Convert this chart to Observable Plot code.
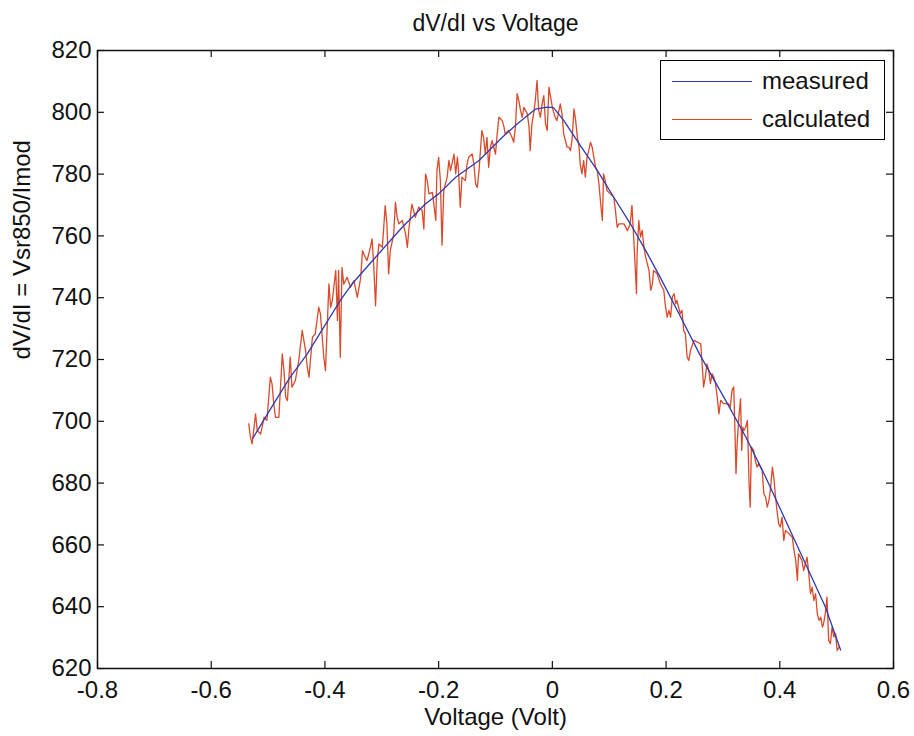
<!DOCTYPE html>
<html><head><meta charset="utf-8">
<script src="https://cdn.jsdelivr.net/npm/d3@7"></script>
<script src="https://cdn.jsdelivr.net/npm/@observablehq/plot@0.6"></script>
<style>
html,body{margin:0;padding:0;background:#fff;}
#wrap{position:relative;width:914px;height:736px;font-family:"Liberation Sans",Arial,sans-serif;}
#legend{position:absolute;left:660px;top:60px;width:225px;height:80px;border:1.5px solid #000;background:#fff;box-sizing:border-box;font-size:24px;color:#111;}
#legend .row{position:absolute;left:0;height:30px;display:flex;align-items:center;}
#legend .sw{width:80px;height:0;margin-left:11px;margin-right:10px;border-top:1.5px solid;}
</style></head><body><div id="wrap"></div>
<script>
const measuredV = [-0.527,-0.49,-0.461,-0.431,-0.402,-0.373,-0.352,-0.311,-0.264,-0.223,-0.2,-0.17,-0.129,-0.088,-0.061,-0.03,-0.009,0.002,0.02,0.049,0.079,0.108,0.137,0.165,0.19,0.225,0.261,0.304,0.34,0.375,0.41,0.445,0.48,0.507];
const measuredR = [694.5,705.7,714.3,721.8,730.5,739.1,744.5,753.1,762.8,770.4,773.6,779,784.4,791.9,796.4,801,801.7,801.5,797.4,789.3,781.2,772.5,764,755,746.5,734,721,707,695,682,668,654,640,626];

const calcV = [
-0.534,-0.531,-0.528,-0.522,-0.519,-0.513,-0.507,-0.502,-0.496,-0.493,-0.49,-0.487,-0.481,-0.475,-0.472,-0.469,-0.466,-0.461,-0.458,-0.452,-0.446,-0.44,-0.434,-0.431,-0.428,-0.422,-0.417,-0.411,-0.408,-0.402,-0.399,-0.393,-0.39,-0.387,-0.381,
-0.378,-0.376,-0.373,-0.37,-0.367,-0.361,-0.355,-0.349,-0.343,-0.337,-0.334,-0.329,-0.326,-0.32,-0.317,-0.314,-0.311,-0.308,-0.305,-0.299,-0.294,-0.291,-0.288,-0.285,-0.279,-0.276,-0.273,-0.27,-0.264,-0.258,-0.255,-0.252,-0.247,-0.241,-0.235,-0.229,-0.226,-0.223,-0.22,-0.217,-0.211,-0.205,-0.203,-0.2,
-0.197,-0.194,-0.191,-0.185,-0.182,-0.179,-0.173,-0.17,-0.167,-0.165,-0.162,-0.159,-0.153,-0.15,-0.147,-0.141,-0.138,-0.135,-0.132,-0.129,-0.124,-0.121,-0.118,-0.115,-0.112,-0.109,-0.106,-0.1,-0.097,-0.094,-0.088,-0.085,-0.083,-0.077,-0.071,-0.068,-0.065,-0.062,-0.059,-0.056,-0.053,-0.05,-0.044,-0.041,-0.039,-0.036,-0.033,-0.03,-0.027,-0.024,
-0.021,-0.018,-0.015,-0.012,-0.009,-0.006,-0.003,0,0.003,0.005,0.008,0.014,0.017,0.02,0.023,0.026,0.029,0.032,0.035,0.038,0.041,0.044,0.047,0.049,0.052,0.055,0.058,0.061,0.064,0.067,0.07,0.073,0.076,0.079,0.082,0.085,0.088,0.09,0.093,0.096,0.102,0.108,0.111,0.114,0.117,0.12,0.126,0.132,0.137,
0.14,0.143,0.146,0.148,0.149,0.152,0.155,0.158,0.161,0.164,0.167,0.17,0.173,0.176,0.178,0.184,0.19,0.196,0.199,0.202,0.205,0.208,0.211,0.214,0.217,0.219,0.225,0.228,0.231,0.234,0.237,0.24,0.243,0.249,0.255,0.261,0.263,0.266,0.269,0.272,0.275,0.278,0.281,0.284,0.287,0.29,0.293,0.296,0.301,0.307,
0.31,0.313,0.316,0.319,0.321,0.323,0.325,0.328,0.331,0.333,0.335,0.337,0.34,0.343,0.346,0.348,0.35,0.354,0.357,0.36,0.363,0.369,0.372,0.375,0.378,0.381,0.384,0.387,0.39,0.392,0.395,0.398,0.401,0.404,0.407,0.41,0.416,0.422,0.425,0.428,0.431,0.433,0.439,0.442,0.445,0.448,0.451,0.454,0.457,0.46,0.463,0.466,0.469,0.472,0.475,0.477,0.48,0.483,0.486,0.489,0.492,0.495,0.498,0.501,0.504];
const calcR = [
699.2,694.9,692.7,702.4,697.0,695.9,701.3,700.3,714.3,712.1,705.6,701.3,701.3,721.8,716.4,707.8,706.7,720.8,711.0,713.2,719.7,729.4,722.9,717.5,714.3,727.2,728.3,736.9,734.8,720.8,716.4,744.5,736.9,739.1,748.8,
732.6,748.8,720.7,749.8,744.4,746.6,743.4,745.5,740.1,746.6,755.2,753.1,752.0,756.3,759.0,749.8,737.4,752.0,757.4,756.3,769.8,763.9,747.7,755.2,760.6,770.9,766.0,763.9,765.0,760.6,756.3,762.8,770.3,766.0,769.3,768.2,762.2,780.0,777.9,773.6,774.1,765.0,781.1,785.4,
777.9,757.0,774.7,779.0,784.4,781.1,786.5,780.1,785.5,781.1,769.3,779.0,777.9,783.3,785.5,786.5,783.3,776.8,775.7,781.1,794.1,791.9,786.5,791.9,782.2,788.7,790.8,786.5,793.0,798.4,797.3,795.2,793.0,794.1,791.9,790.3,795.2,806.0,803.8,800.6,798.4,801.6,799.5,795.2,787.6,796.2,799.5,803.8,810.3,800.6,
798.4,802.7,805.4,796.2,794.1,808.1,804.9,801.6,799.5,798.4,797.3,802.7,799.5,793.0,790.8,788.7,788.7,787.6,791.9,801.1,797.3,791.9,788.7,783.3,780.1,784.4,779.0,785.5,787.6,790.3,788.7,785.5,782.2,781.1,776.8,770.4,765.0,780.1,777.9,774.7,773.6,772.5,768.2,762.8,763.9,763.9,763.9,761.7,763.9,
769.9,759.6,748.8,741.3,754.2,765.0,759.6,761.8,756.4,753.2,751.0,748.8,742.4,744.5,748.8,747.8,744.5,742.4,737.0,733.7,735.9,733.7,740.2,741.3,738.0,739.1,734.8,735.9,729.4,728.3,720.8,719.7,722.9,726.2,725.6,725.1,719.7,711.1,714.3,718.6,716.5,712.2,715.4,714.3,712.2,707.8,702.4,706.8,705.7,705.7,
705.7,704.6,710.0,711.1,698.1,683.0,692.7,701.4,707.3,690.6,698.1,697.0,698.1,700.3,679.8,672.2,691.7,690.6,687.3,685.2,686.3,684.1,676.5,675.5,672.2,674.4,678.7,685.2,680.9,676.5,671.2,666.8,665.8,669.0,661.4,664.7,663.6,662.5,658.2,655.0,648.5,657.1,655.0,651.7,653.9,656.0,650.7,644.2,646.3,642.0,644.2,637.7,635.6,636.6,633.4,634.5,637.7,643.1,629.1,628.0,633.4,630.2,631.3,625.8,626.9];

const xTicks = [-0.8,-0.6,-0.4,-0.2,0,0.2,0.4,0.6];
const yTicks = [620,640,660,680,700,720,740,760,780,800,820];
const seriesNames = ["measured","calculated"];
const seriesColors = ["#2b3cb4","#d94a2a"];
const titleText = "dV/dI vs Voltage";
const xLabel = "Voltage (Volt)";
const yLabel = "dV/dI = Vsr850/Imod";

const measured = measuredV.map((v,i)=>({v, r: measuredR[i]}));
const calculated = calcV.map((v,i)=>({v, r: calcR[i]}));

const W = 914, H = 736, mL = 97, mR = 21, mT = 50, mB = 68;
const fw = W - mL - mR, fh = H - mT - mB, tk = 7;
const fmt = d => String(d);

const chart = Plot.plot({
  width: W, height: H,
  marginLeft: mL, marginRight: mR, marginTop: mT, marginBottom: mB,
  style: {fontFamily: '"Liberation Sans", Arial, sans-serif', fontSize: "24px", color: "#111", background: "#fff"},
  x: {domain: [-0.8, 0.6], label: null},
  y: {domain: [620, 820], label: null},
  marks: [
    Plot.line(calculated, {x: "v", y: "r", stroke: seriesColors[1], strokeWidth: 1.3}),
    Plot.line(measured, {x: "v", y: "r", stroke: seriesColors[0], strokeWidth: 1.3}),
    Plot.tickX(xTicks, {x: d => d, insetTop: fh - tk, stroke: "#111", strokeWidth: 1.2}),
    Plot.tickX(xTicks, {x: d => d, insetBottom: fh - tk, stroke: "#111", strokeWidth: 1.2}),
    Plot.tickY(yTicks, {y: d => d, insetRight: fw - tk, stroke: "#111", strokeWidth: 1.2}),
    Plot.tickY(yTicks, {y: d => d, insetLeft: fw - tk, stroke: "#111", strokeWidth: 1.2}),
    Plot.axisX(xTicks, {anchor: "bottom", tickSize: 0, tickPadding: 12, tickFormat: fmt, fontSize: 24, label: null}),
    Plot.axisY(yTicks, {anchor: "left", tickSize: 0, tickPadding: 6, tickFormat: fmt, fontSize: 24, label: null}),
    Plot.frame({stroke: "#111", strokeWidth: 1.5}),
    Plot.text([titleText], {frameAnchor: "top", dy: -36, fontSize: 23, fill: "#111"}),
    Plot.text([xLabel], {frameAnchor: "bottom", dy: 56, fontSize: 24, fill: "#111"}),
    Plot.text([yLabel], {frameAnchor: "left", dx: -75, rotate: -90, fontSize: 24, fill: "#111"})
  ]
});
const wrap = document.getElementById("wrap");
wrap.appendChild(chart);

const lg = document.createElement("div");
lg.id = "legend";
seriesNames.forEach((n, i) => {
  const row = document.createElement("div");
  row.className = "row";
  row.style.top = (i === 0 ? 5 : 43) + "px";
  const sw = document.createElement("span");
  sw.className = "sw";
  sw.style.borderTopColor = seriesColors[i];
  const t = document.createElement("span");
  t.textContent = n;
  row.appendChild(sw); row.appendChild(t);
  lg.appendChild(row);
});
wrap.appendChild(lg);
</script>
</body></html>
